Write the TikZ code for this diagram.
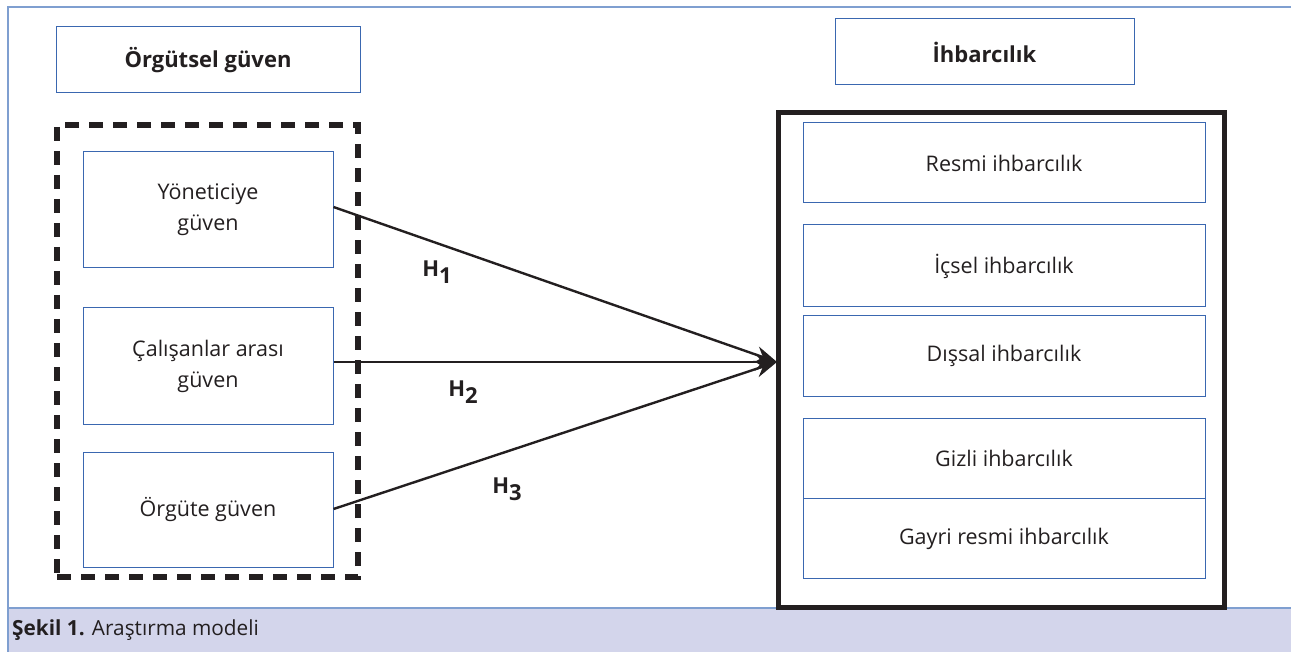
\documentclass[tikz,border=0pt]{standalone}
\usepackage{fontspec}
\setmainfont{Open Sans}
\usetikzlibrary{arrows.meta}
\definecolor{boxblue}{HTML}{3A67B0}
\definecolor{frameblue}{HTML}{7F9FD0}
\definecolor{capfill}{HTML}{D3D5EB}
\definecolor{ink}{HTML}{231F20}
\tikzset{
  box/.style={draw=boxblue, line width=1pt, fill=white, align=center, text=ink, font=\fontsize{21.5}{31}\selectfont, inner sep=0pt},
  hdr/.style={box, font=\fontsize{22}{28}\selectfont\bfseries},
  conn/.style={draw=ink, line width=2.4pt, -{Stealth[length=22pt,width=17pt]}},
  hlab/.style={text=ink, font=\fontsize{22}{24}\selectfont\fontseries{sb}\selectfont, inner sep=0pt}
}
\newcommand{\hsub}[1]{H\raisebox{-7pt}{#1}}
\begin{document}
\begin{tikzpicture}[x=1pt,y=-1pt]
\useasboundingbox (0,0) rectangle (1291,652);
% outer frame
\draw[frameblue, line width=1.5pt] (8,652) -- (8,7) -- (1291,7);
% caption band
\fill[capfill] (8,608) rectangle (1291,652);
\draw[frameblue, line width=1.5pt] (8,608) -- (1291,608);
\draw[frameblue, line width=1.5pt] (8,608) -- (8,652);
\node[anchor=west, text=ink, font=\fontsize{20.8}{24}\selectfont, inner sep=0pt] (cap) at (12,630) {\textbf{Şekil 1.} Araştırma modeli};
% headers
\node[hdr, minimum width=304pt, minimum height=66pt] (og) at (208,60) {Örgütsel güven};
\node[hdr, minimum width=299pt, minimum height=66pt] (ih) at (984.5,52) {İhbarcılık};
% dashed group
\node[draw=ink, line width=5.5pt, dash pattern=on 14pt off 10pt, minimum width=301pt, minimum height=452pt, inner sep=0pt] (grp) at (207.5,351) {};
\node[box, minimum width=250pt, minimum height=116pt] (y) at (208,210) {Yöneticiye\\güven};
\node[box, minimum width=250pt, minimum height=116pt] (c) at (208,366) {Çalışanlar arası\\güven};
\node[box, minimum width=250pt, minimum height=115pt] (o) at (208,509.5) {Örgüte güven};
% big right box
\node[draw=ink, line width=5pt, minimum width=446pt, minimum height=494pt, inner sep=0pt] (big) at (1001,360) {};
\node[box, minimum width=402pt, minimum height=80pt] (r1) at (1004,163) {Resmi ihbarcılık};
\node[box, minimum width=402pt, minimum height=82pt] (r2) at (1004,266) {İçsel ihbarcılık};
\node[box, minimum width=402pt, minimum height=81pt] (r3) at (1004,356) {Dışsal ihbarcılık};
\node[box, minimum width=402pt, minimum height=80pt] (r4) at (1004,458.5) {Gizli ihbarcılık};
\node[box, minimum width=402pt, minimum height=80pt] (r5) at (1004,538.5) {Gayri resmi ihbarcılık};
% arrows
\coordinate (tip) at (777,362);
\draw[conn] (y.east |- 0,207) -- (tip);
\draw[conn] (c.east |- 0,362) -- (tip);
\draw[conn] (o.east |- 0,509) -- (tip);
\node[hlab] (h1) at (437,272) {\hsub{1}};
\node[hlab] (h2) at (463,392) {\hsub{2}};
\node[hlab] (h3) at (507,489) {\hsub{3}};
\end{tikzpicture}
\end{document}
